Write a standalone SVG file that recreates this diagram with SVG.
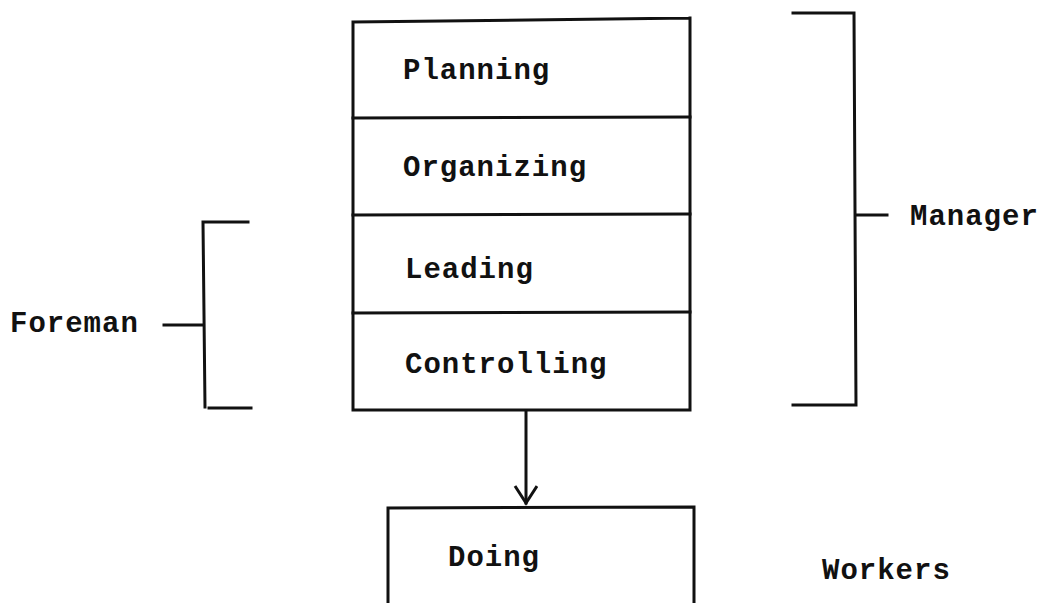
<svg xmlns="http://www.w3.org/2000/svg" width="1047" height="603" viewBox="0 0 1047 603">
<style>
.ln{stroke:#111;stroke-width:3;fill:none;stroke-linecap:square}
.t{font-family:"Liberation Mono","Courier New",monospace;font-size:29px;font-weight:bold;fill:#111;letter-spacing:1px}
</style>
<defs>
<marker id="ah" markerWidth="24" markerHeight="26" refX="19" refY="12" orient="auto" markerUnits="userSpaceOnUse">
<path d="M2,1 L19,12 L2,23" stroke="#111" stroke-width="3" fill="none"/>
</marker>
</defs>
<rect width="1047" height="603" fill="#fff"/>
<g id="stack">
<path class="ln" d="M353,22 L690,18 M353,22 L353,410 M690,18 L690,410 M353,410 L690,410"/>
</g>
<g id="planning"><text class="t" x="403" y="79">Planning</text></g>
<g id="organizing"><path class="ln" d="M353,118 L690,117"/><text class="t" x="403" y="176">Organizing</text></g>
<g id="leading"><path class="ln" d="M353,215 L690,214"/><text class="t" x="405" y="278">Leading</text></g>
<g id="controlling"><path class="ln" d="M353,313 L690,312"/><text class="t" x="405" y="373">Controlling</text></g>
<g id="doing">
<path class="ln" d="M388,603 L388,508 L694,507 L694,603"/>
<text class="t" x="448" y="566">Doing</text>
</g>
<g id="foreman">
<path class="ln" d="M248,222 L203,222 L205,407 M164,325 L203,325 M209,408 L251,408"/>
<text class="t" x="10" y="332">Foreman</text>
</g>
<g id="manager">
<path class="ln" d="M793,13 L854,13 L856,405 L793,405 M857,215 L887,215"/>
<text class="t" x="910" y="225">Manager</text>
</g>
<g id="workers"><text class="t" x="822" y="579">Workers</text></g>
<g id="connectors">
<line class="ln" x1="526" y1="411" x2="526" y2="503" marker-end="url(#ah)"/>
</g>
</svg>
